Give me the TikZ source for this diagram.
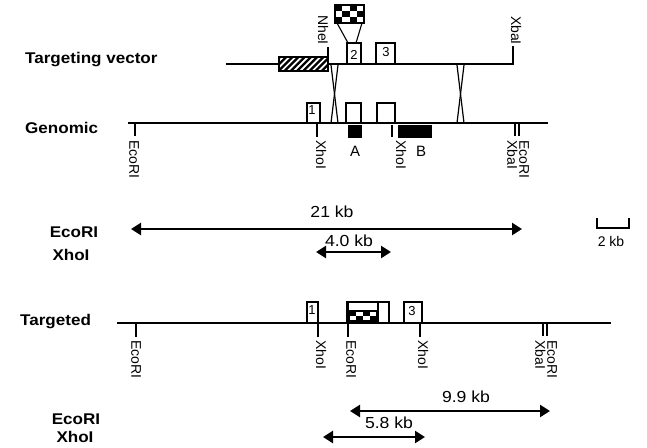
\documentclass[tikz,border=0pt]{standalone}
\usepackage{fontspec}
\setmainfont{Liberation Sans}
\usetikzlibrary{arrows.meta}
\newcommand{\sx}[1]{\scalebox{1.1}[1]{#1}}
\begin{document}
\begin{tikzpicture}[x=1pt,y=-1pt,
  ln/.style={line width=1.6pt},
  tk/.style={line width=1.5pt},
  exon/.style={draw,line width=1.2pt,fill=white},
  bl/.style={font=\bfseries\fontsize{15.5}{17}\selectfont, inner sep=0},
  rs/.style={font=\fontsize{14}{12}\selectfont, rotate=-90, inner sep=0, align=left, anchor=west},
  kb/.style={font=\fontsize{16}{18}\selectfont, inner sep=0},
  num/.style={font=\fontsize{13}{13}\selectfont, inner sep=0},
  dbl/.style={line width=2.4pt,{Triangle[length=10pt,width=12pt]}-{Triangle[length=10pt,width=12pt]}},
  xover/.style={line width=1.2pt}
]
\useasboundingbox (0,0) rectangle (647,447);

% row labels
\node[bl,anchor=west] (tv) at (25,60) {\sx{Targeting vector}};
\node[bl,anchor=west] (gen) at (25,128) {\sx{Genomic}};
\node[bl,anchor=west] (tgt) at (20,322) {\sx{Targeted}};

% ---------- targeting vector ----------
\coordinate (v0) at (226,64);
\coordinate (v1) at (513,64);
\coordinate (xbt) at (513,46);
\draw[ln] (v0) -- (v1) -- (xbt);
\node[rs,anchor=east] (xbaTop) at (516,45) {XbaI};
% hatched box
\fill[white] (279,57) rectangle (328,71);
\begin{scope}
  \clip (279,57) rectangle (328,71);
  \foreach \i in {0,...,10} \draw[line width=2.3pt] (266+\i*6.2,71) -- (280+\i*6.2,57);
\end{scope}
\draw[line width=1.3pt] (279,57) rectangle (328,71);
% NheI
\draw[tk] (328,47) -- (328,64);
\node[rs,anchor=east] (nhe) at (323,45) {NheI};
% exons 2 and 3
\draw[exon] (347,43) rectangle (361,64);
\node[num] (e2v) at (354,55) {2};
\draw[exon] (376,43) rectangle (395,64);
\node[num] (e3v) at (386,52) {3};
% checkered cassette
\fill[white] (335,5) rectangle (364,23);
\foreach \i in {0,...,3} \foreach \j in {0,...,2} {
  \pgfmathtruncatemacro\p{mod(\i+\j,2)}
  \ifnum\p=0 \fill (335+\i*7.25,5+\j*6) rectangle ++(7.25,6); \fi
}
\draw[line width=1.3pt] (335,5) rectangle (364,23);
\draw[line width=1.1pt] (337,23) -- (348,43);
\draw[line width=1.1pt] (362,23) -- (356,43);

% crossovers
\draw[xover] (331,65) -- (338,123);
\draw[xover] (338,65) -- (331,123);
\draw[xover] (457,65) -- (464,123);
\draw[xover] (464,65) -- (457,123);

% ---------- genomic ----------
\draw[ln] (128,123) -- (548,123);
\draw[tk] (135,123) -- (135,136);
\node[rs] (g1) at (134,140) {EcoRI};
\draw[exon] (307,103) rectangle (320,123);
\node[num] (e1g) at (312,110) {1};
\draw[tk] (317,123) -- (317,137);
\node[rs] (g2) at (321,140) {XhoI};
\draw[exon] (346,103) rectangle (361,123);
\draw[exon] (377,103) rectangle (395,123);
\fill (348,125) rectangle (362,138);
\node[kb,font=\fontsize{15}{16}\selectfont] (pa) at (355,151) {A};
\draw[tk] (392,125) -- (392,137);
\node[rs] (g3) at (401,140) {XhoI};
\fill (398,125) rectangle (432,138);
\node[kb,font=\fontsize{15}{16}\selectfont] (pb) at (421,151) {B};
\draw[line width=1.3pt] (515,124) -- (515,136);
\draw[line width=1.3pt] (519,124) -- (519,136);
\node[rs] (g4) at (518,140) {EcoRI\\XbaI};

% ---------- targeted ----------
\draw[ln] (117,323) -- (611,323);
\draw[tk] (136,323) -- (136,337);
\node[rs] (t1) at (136,340) {EcoRI};
\draw[exon] (307,302) rectangle (318,323);
\node[num] (e1t) at (312,310) {1};
\draw[tk] (318,323) -- (318,337);
\node[rs] (t2) at (321,340) {XhoI};
% disrupted exon 2 with cassette
\draw[line width=1.2pt] (347,323) -- (347,302) -- (379,302);
\draw[line width=2.6pt] (348,302) -- (348,323);
\draw[exon] (378,302) rectangle (389,323);
\fill[white] (349,311) rectangle (377,321);
\foreach \i in {0,...,3} \foreach \j in {0,...,1} {
  \pgfmathtruncatemacro\p{mod(\i+\j,2)}
  \ifnum\p=0 \fill (349+\i*7,311+\j*5) rectangle ++(7,5); \fi
}
\draw[line width=1.3pt] (349,311) rectangle (377,321);
\draw[tk] (348,323) -- (348,337);
\node[rs] (t3) at (351,340) {EcoRI};
\draw[exon] (404,302) rectangle (422,323);
\node[num] (e3t) at (412,311) {3};
\draw[tk] (420,323) -- (420,337);
\node[rs] (t4) at (423,340) {XhoI};
\draw[line width=1.3pt] (543,324) -- (543,336);
\draw[line width=1.3pt] (547,324) -- (547,336);
\node[rs] (t5) at (546,340) {EcoRI\\XbaI};

% ---------- fragment sizes ----------
\node[bl] (le1) at (74,232) {\sx{EcoRI}};
\node[bl] (lx1) at (71,255) {\sx{XhoI}};
\coordinate (a1) at (131,229); \coordinate (a2) at (522,229);
\draw[dbl] (a1) -- (a2);
\node[kb] (k21) at (332,212) {\sx{21 kb}};
\coordinate (b1) at (316,252); \coordinate (b2) at (391,252);
\draw[dbl] (b1) -- (b2);
\node[kb] (k40) at (349,241) {\sx{4.0 kb}};

% scale bar
\coordinate (s1) at (597,218); \coordinate (s2) at (629,218);
\draw[line width=1.4pt] (s1) -- (597,228) -- (629,228) -- (s2);
\node[kb,font=\fontsize{14}{15}\selectfont] (sb) at (611,241) {2 kb};

\node[bl] (le2) at (76,419) {\sx{EcoRI}};
\node[bl] (lx2) at (75,437) {\sx{XhoI}};
\coordinate (c1) at (350,411); \coordinate (c2) at (550,411);
\draw[dbl] (c1) -- (c2);
\node[kb] (k99) at (466,397) {\sx{9.9 kb}};
\coordinate (d1) at (323,437); \coordinate (d2) at (425,437);
\draw[dbl] (d1) -- (d2);
\node[kb] (k58) at (389,423) {\sx{5.8 kb}};
\end{tikzpicture}
\end{document}
